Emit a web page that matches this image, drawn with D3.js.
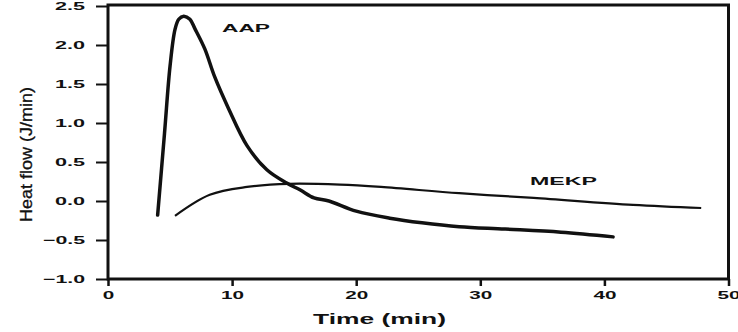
<!DOCTYPE html>
<html>
<head>
<meta charset="utf-8">
<script src="https://cdn.jsdelivr.net/npm/d3@7"></script>
<style>
  body { margin: 0; background: #fff; }
  svg { display: block; }
  .tick text { font-family: "Liberation Sans", Arial, sans-serif; font-weight: bold; font-size: 11px; fill: #111; }
</style>
</head>
<body>
<svg id="chart" width="738" height="332"></svg>
<script>
// AAP curve (time in min, heat flow in J/min)
const aapTime = [4.0, 4.55, 5.0, 5.4, 5.7, 6.1, 6.6, 7.0, 7.8, 8.6, 9.7, 11.2, 12.8, 14.4, 15.5, 16.6, 17.8, 20.0, 22.7, 25.3, 28.3, 32.0, 36.5, 40.7];
const aapFlow = [-0.18, 0.86, 1.73, 2.2, 2.33, 2.37, 2.33, 2.21, 1.95, 1.59, 1.19, 0.71, 0.40, 0.23, 0.14, 0.04, 0.0, -0.13, -0.22, -0.28, -0.33, -0.36, -0.40, -0.46];

// MEKP curve
const mekpTime = [5.4, 8.2, 11.2, 14.6, 18.7, 22.0, 28.3, 34.3, 42.3, 47.8];
const mekpFlow = [-0.19, 0.08, 0.18, 0.22, 0.21, 0.18, 0.10, 0.04, -0.05, -0.09];

const xTicks = [0, 10, 20, 30, 40, 50];
const yTicks = [-1.0, -0.5, 0.0, 0.5, 1.0, 1.5, 2.0, 2.5];

const plot = {left: 108, right: 728.5, top: 6, bottom: 279};
const svg = d3.select('#chart');

const x = d3.scaleLinear().domain([0, 50]).range([plot.left, plot.right]);
const y = d3.scaleLinear().domain([-1.0, 2.5]).range([plot.bottom, plot.top]);

// wide bold look of the original labels
function stretch(sel, perChar) {
    sel.attr('textLength', function() {
        let s = this.textContent, w = 0;
        for (const c of s) w += c === '.' ? perChar * 0.5 : c === '-' ? perChar * 0.85 : perChar;
        return w;
    }).attr('lengthAdjust', 'spacingAndGlyphs');
}

// frame
svg.append('rect')
    .attr('x', plot.left).attr('y', plot.top - 1)
    .attr('width', plot.right - plot.left).attr('height', plot.bottom - plot.top + 1)
    .attr('fill', 'none').attr('stroke', '#111').attr('stroke-width', 3);

let xAxis = svg.append('g')
    .attr('transform', 'translate(0,' + plot.bottom + ')')
    .call(d3.axisBottom(x).tickValues(xTicks).tickFormat(d3.format('d')).tickSize(7).tickPadding(5));
xAxis.select('.domain').remove();
xAxis.selectAll('line').attr('stroke-width', 2.5).attr('stroke', '#111');
xAxis.selectAll('text').call(stretch, 11.5);

let yAxis = svg.append('g')
    .attr('transform', 'translate(' + plot.left + ',0)')
    .call(d3.axisLeft(y).tickValues(yTicks).tickFormat(d3.format('.1f')).tickSize(12).tickPadding(11));
yAxis.select('.domain').remove();
yAxis.selectAll('line').attr('stroke-width', 2).attr('stroke', '#111');
yAxis.selectAll('text').call(stretch, 12);

const line = d3.line()
    .x(d => x(d[0]))
    .y(d => y(d[1]))
    .curve(d3.curveCatmullRom);

svg.append('path')
    .datum(d3.zip(aapTime, aapFlow))
    .attr('fill', 'none').attr('stroke', '#111').attr('stroke-width', 3.5)
    .attr('stroke-linejoin', 'round').attr('stroke-linecap', 'round')
    .attr('d', line);

svg.append('path')
    .datum(d3.zip(mekpTime, mekpFlow))
    .attr('fill', 'none').attr('stroke', '#111').attr('stroke-width', 2.2)
    .attr('stroke-linejoin', 'round')
    .attr('d', line);

svg.append('text')
    .attr('x', 222).attr('y', 32)
    .attr('font-family', '"Liberation Sans", Arial, sans-serif')
    .attr('font-weight', 'bold').attr('font-size', 11.5).attr('fill', '#111')
    .attr('textLength', 48).attr('lengthAdjust', 'spacingAndGlyphs')
    .text('AAP');

svg.append('text')
    .attr('x', 530).attr('y', 185)
    .attr('font-family', '"Liberation Sans", Arial, sans-serif')
    .attr('font-weight', 'bold').attr('font-size', 11.5).attr('fill', '#111')
    .attr('textLength', 67).attr('lengthAdjust', 'spacingAndGlyphs')
    .text('MEKP');

svg.append('text')
    .attr('x', 313).attr('y', 324)
    .attr('font-family', '"Liberation Sans", Arial, sans-serif')
    .attr('font-weight', 'bold').attr('font-size', 15).attr('fill', '#111')
    .attr('textLength', 133).attr('lengthAdjust', 'spacingAndGlyphs')
    .text('Time (min)');

svg.append('text')
    .attr('transform', 'translate(32,222) rotate(-90)')
    .attr('font-family', '"Liberation Sans Narrow", "Liberation Sans", Arial, sans-serif')
    .attr('font-size', 17).attr('fill', '#111').attr('stroke', '#111').attr('stroke-width', 0.3)
    .attr('textLength', 135).attr('lengthAdjust', 'spacingAndGlyphs')
    .text('Heat flow (J/min)');
</script>
</body>
</html>
